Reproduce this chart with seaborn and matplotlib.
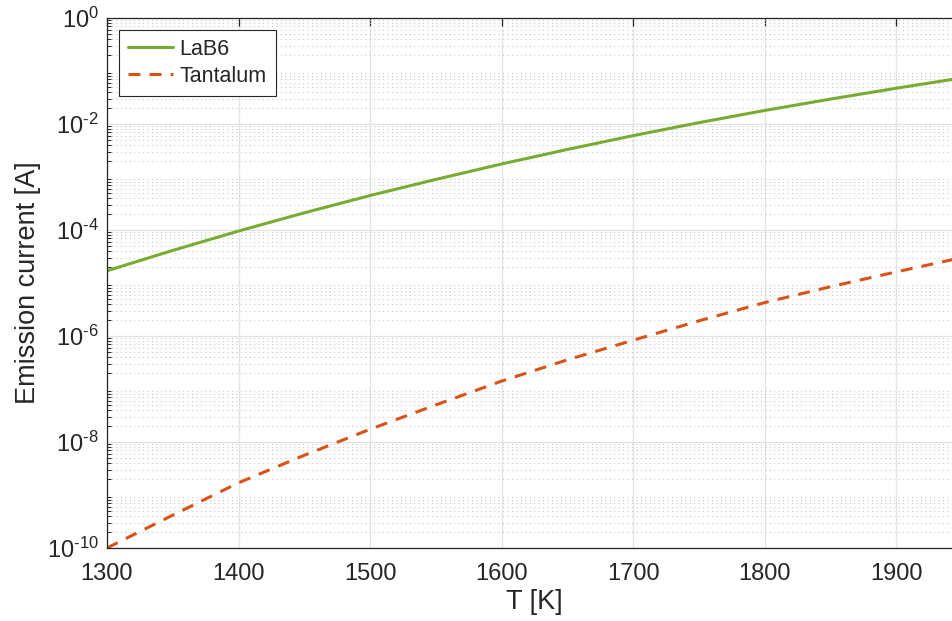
import matplotlib
matplotlib.use("Agg")
import matplotlib.pyplot as plt
import matplotlib.ticker as mticker
import seaborn as sns
import pandas as pd
import numpy as np

temperature = [1300, 1350, 1400, 1450, 1500, 1550, 1600, 1650, 1700, 1750, 1800, 1850, 1900, 1950]
lab6_current = [1.70e-5, 4.12e-5, 9.55e-5, 2.11e-4, 4.47e-4, 9.0e-4, 1.76e-3, 3.31e-3, 6.03e-3, 1.06e-2, 1.80e-2, 2.95e-2, 4.73e-2, 7.41e-2]
tantalum_current = [1.0e-10, 4.17e-10, 1.70e-9, 5.62e-9, 1.74e-8, 5.01e-8, 1.41e-7, 3.55e-7, 8.32e-7, 1.93e-6, 4.27e-6, 8.51e-6, 1.62e-5, 3.02e-5]
series_names = ["LaB6", "Tantalum"]

df = pd.DataFrame({
    "T": temperature * 2,
    "I": lab6_current + tantalum_current,
    "Material": [series_names[0]] * len(temperature) + [series_names[1]] * len(temperature),
})

sns.set_style("white")
plt.rcParams["font.family"] = ["Liberation Sans", "DejaVu Sans"]
plt.rcParams["mathtext.fontset"] = "custom"
plt.rcParams["mathtext.rm"] = "Liberation Sans"
plt.rcParams["mathtext.it"] = "Liberation Sans:italic"
plt.rcParams["axes.unicode_minus"] = False

fig = plt.figure(figsize=(9.52, 6.21), dpi=100)
ax = fig.add_axes([107/952, 1 - 548/621, (962-107)/952, (548-18)/621])

sns.lineplot(data=df, x="T", y="I", hue="Material", style="Material",
             palette={"LaB6": "#77AC30", "Tantalum": "#D95319"},
             dashes={"LaB6": "", "Tantalum": (3.9, 3.0)},
             linewidth=2.2, ax=ax, legend=True)

ax.set_yscale("log")
ax.set_xlim(1300, 1950)
ax.set_ylim(1e-10, 1)
ax.set_yticks([1e-10, 1e-8, 1e-6, 1e-4, 1e-2, 1e0])


def fmt_pow(v, pos):
    e = int(round(np.log10(v)))
    if e < 0:
        return r"$10^{\text{-}%d}$" % (-e)
    return r"$10^{%d}$" % e


ax.yaxis.set_major_formatter(mticker.FuncFormatter(fmt_pow))
ax.yaxis.set_minor_locator(mticker.LogLocator(base=10, subs=np.arange(2, 10), numticks=100))
ax.yaxis.set_minor_formatter(mticker.NullFormatter())
ax.set_xticks([1300, 1400, 1500, 1600, 1700, 1800, 1900])

ax.grid(True, which="major", color="#e3e3e3", linewidth=0.9, linestyle="-")
ax.grid(True, which="minor", axis="y", color="#c8c8c8", linewidth=0.8, linestyle=(0, (1, 3)))
ax.set_axisbelow(True)

for s in ax.spines.values():
    s.set_color("#262626")
    s.set_linewidth(0.9)

ax.tick_params(which="major", direction="in", length=6, width=0.9, color="#262626",
               top=True, right=True, labelsize=17, labelcolor="#262626")
ax.tick_params(axis="x", which="major", pad=11)
ax.tick_params(axis="y", which="major", pad=6)
ax.tick_params(which="minor", direction="in", length=3, width=0.7, color="#262626",
               left=True, right=True)

ax.set_xlabel("T [K]", fontsize=19.5, color="#262626", labelpad=3)
ax.set_ylabel("Emission current [A]", fontsize=19.5, color="#262626", labelpad=4)

leg = ax.legend(loc="upper left", bbox_to_anchor=(0.0, 1.0), borderaxespad=0.55,
                fontsize=15.5, frameon=True, fancybox=False, framealpha=1,
                edgecolor="#262626", handlelength=2.1, handletextpad=0.3,
                borderpad=0.42, labelspacing=0.28, title=None)
leg.get_frame().set_linewidth(0.8)

fig.savefig("out.png", dpi=100)
